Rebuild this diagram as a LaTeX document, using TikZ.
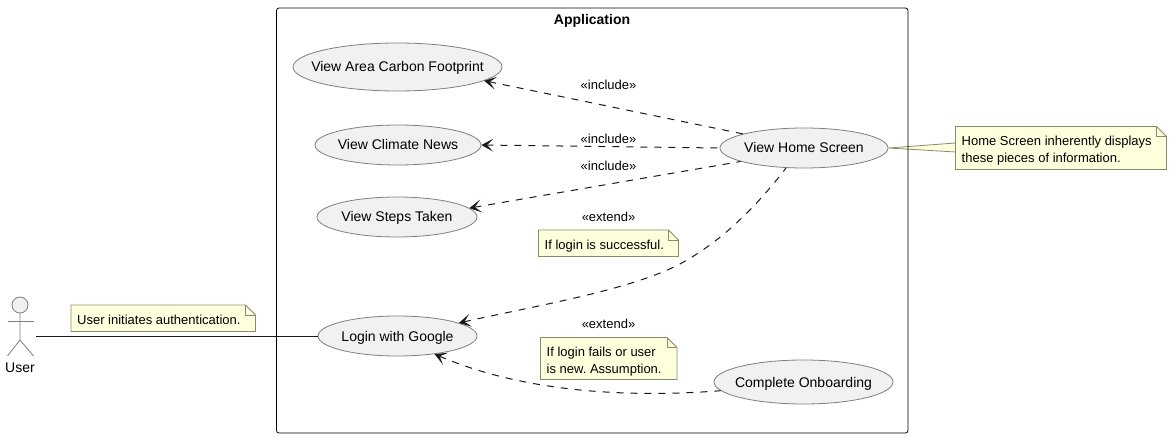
\documentclass[tikz,border=0pt]{standalone}
\usepackage{fontspec}
\setmainfont{Liberation Sans}
\usetikzlibrary{shapes.geometric,arrows.meta}
\definecolor{notefill}{HTML}{FEFFDD}
\definecolor{noteline}{HTML}{8A8A6A}
\definecolor{casefill}{HTML}{F1F1F1}
\definecolor{caseline}{HTML}{7F7F7F}
\definecolor{darkline}{HTML}{181818}
\tikzset{
    usecase/.style={ellipse, draw=caseline, fill=casefill, line width=0.8pt, inner sep=-20pt, minimum height=#1, text height=10.5pt, text depth=0.5pt, font=\fontsize{14}{16}\selectfont},
    usecase/.default=40pt,
    notebox/.style={draw=noteline, fill=notefill, line width=0.8pt, line join=miter},
    notetext/.style={anchor=west, align=left, inner sep=0pt, font=\fontsize{13}{17}\selectfont\frenchspacing},
    stereo/.style={inner sep=0pt, font=\fontsize{13}{15}\selectfont},
    dep/.style={darkline, line width=1pt, dash pattern=on 7pt off 7pt, {Stealth[length=12pt,width=13pt,inset=6.5pt]}-},
    stick/.style={draw=caseline, line width=0.8pt}
}
\begin{document}
\begin{tikzpicture}[x=1pt,y=-1pt]
\useasboundingbox (0,0) rectangle (1172,438);

% --- Use cases ---
\node[usecase=48pt, minimum width=209pt] (area) at (397.5,67) {View Area Carbon Footprint};
\node[usecase, minimum width=166pt] (news) at (398,145) {View Climate News};
\node[usecase, minimum width=160pt] (steps) at (397,217) {View Steps Taken};
\node[usecase, minimum width=159pt] (login) at (397.5,336) {Login with Google};
\node[usecase, minimum width=168pt] (home) at (804,148) {View Home Screen};
\node[usecase=44pt, minimum width=179pt] (onboard) at (803.5,382) {Complete Onboarding};

% --- Actor ---
\node[circle, stick, fill=casefill, minimum size=16pt, inner sep=0pt] (head) at (20,305) {};
\draw[stick] (head.south) -- (20,340) -- (7.5,356);
\draw[stick] (20,340) -- (33.5,356);
\draw[stick] (7.5,321) -- (33.5,321);
\node[font=\fontsize{14}{16}\selectfont, inner sep=0pt] (user) at (20,368) {User};
\coordinate (userend) at (36,336);

% Linguetta della nota
\coordinate (tipa) at (955.6,143);
\coordinate (tipb) at (955.6,152);
\draw[notebox] (home.east) -- (tipa) -- (tipb) -- cycle;

% --- Notes ---
\foreach \nm/\xa/\ya/\xb/\yb/\txt in {
    noteauth/71/305/255.5/331.5/{User initiates authentication.},
    notehome/955.5/126.5/1166.5/169.5/{Home Screen inherently displays\\these pieces of information.},
    noteok/538.5/230/678.5/256.5/{If login is successful.},
    notefail/540.5/337.5/677/379.5/{If login fails or user\\is new. Assumption.}} {
    \draw[notebox] (\xa,\ya) -- (\xb-10,\ya) -- (\xb,\ya+10) -- (\xb,\yb) -- (\xa,\yb) -- cycle;
    \draw[notebox, fill=none] (\xb-10,\ya) -- (\xb-10,\ya+10) -- (\xb,\ya+10);
    \node[notetext] (\nm) at (\xa+6,{(\ya+\yb)/2+2.7}) {\rule{0pt}{10pt}\txt\rule[-3pt]{0pt}{3pt}};
}

% --- Frame ---
\node[draw=black, line width=0.8pt, rounded corners=2.5pt, minimum width=631.5pt, minimum height=425pt, inner sep=0pt] (app) at (592.25,220.5) {};
\node[font=\bfseries\fontsize{14}{16}\selectfont, inner sep=0pt] (apptitle) at (592,20.5) {Application};

% --- Connectors ---
\draw[darkline, line width=1pt] (userend) -- (login.west);
\draw[dep] (area.351) -- (home.167);
\draw[dep] (news.east) -- (home.west);
\draw[dep] (steps.7) -- (home.192);
\draw[dep] (login.12) .. controls (540,305) and (630,290) .. (680,264) .. controls (715,245) and (750,215) .. (home.228);
\draw[dep] (login.334) .. controls (530,395) and (640,397) .. (onboard.186);

% --- Stereotypes ---
\foreach \nm/\yy/\txt in {incarea/85/include, incnews/139/include, incsteps/166/include, extok/217/extend, extfail/324/extend} {
    \node[stereo] (\nm) at (608.5,\yy) {«\txt»};
}
\end{tikzpicture}
\end{document}
